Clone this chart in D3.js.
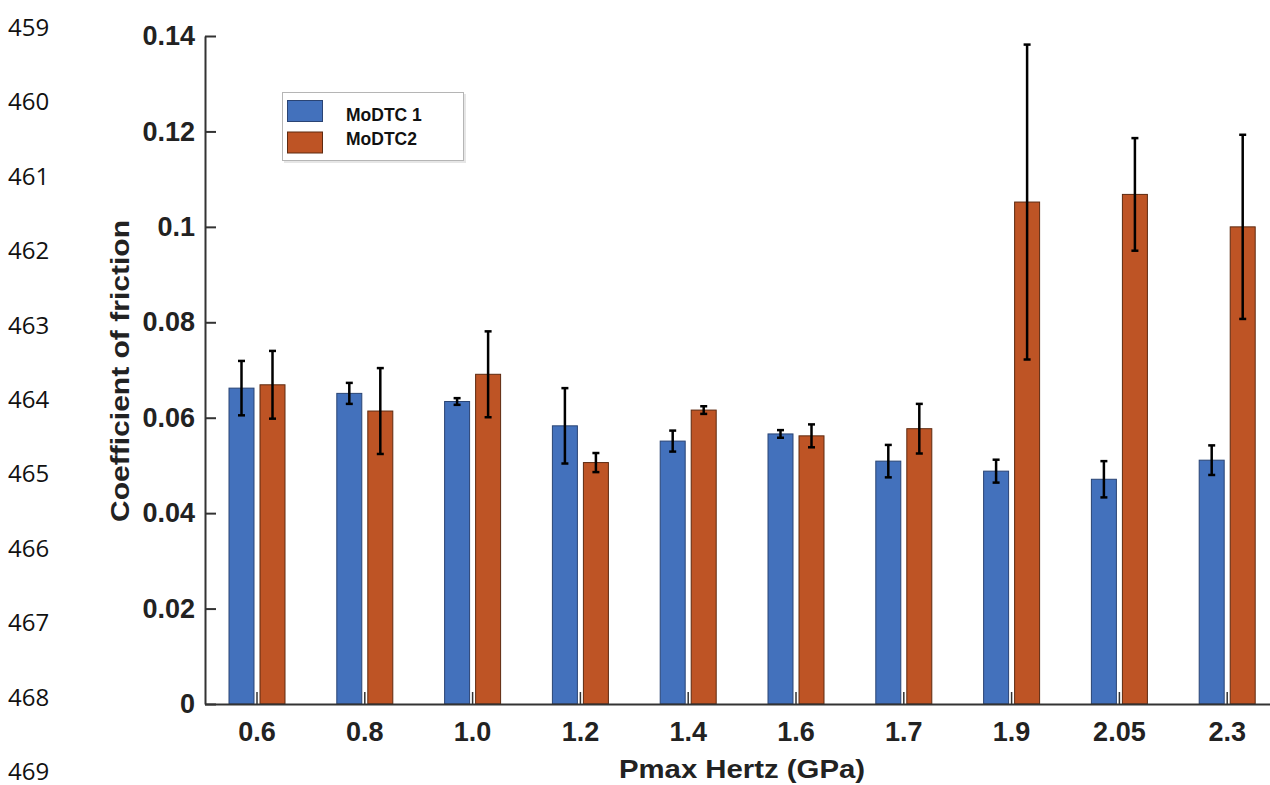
<!DOCTYPE html>
<html>
<head>
<meta charset="utf-8">
<script src="https://cdn.jsdelivr.net/npm/d3@7/dist/d3.min.js"></script>
<style>
  html, body { margin: 0; padding: 0; background: #ffffff; }
  svg { display: block; }
</style>
</head>
<body>
<svg id="chart" width="1270" height="785"></svg>
<script>
// ---- data ----
const categories = ["0.6", "0.8", "1.0", "1.2", "1.4", "1.6", "1.7", "1.9", "2.05", "2.3"];
const seriesNames = ["MoDTC 1", "MoDTC2"];
const modtc1 = [0.0662, 0.0651, 0.0634, 0.0583, 0.0551, 0.0566, 0.0509, 0.0488, 0.0471, 0.0511];
const modtc1Err = [0.0057, 0.0022, 0.0007, 0.0079, 0.0022, 0.0008, 0.0034, 0.0024, 0.0038, 0.0031];
const modtc2 = [0.0669, 0.0614, 0.0691, 0.0506, 0.0616, 0.0562, 0.0577, 0.1052, 0.1068, 0.1000];
const modtc2Err = [0.0071, 0.0090, 0.0090, 0.0020, 0.0008, 0.0024, 0.0052, 0.0330, 0.0118, 0.0193];
const yTicks = [0, 0.02, 0.04, 0.06, 0.08, 0.1, 0.12, 0.14];
const yTickLabels = ["0", "0.02", "0.04", "0.06", "0.08", "0.1", "0.12", "0.14"];
const lineNumbers = [459, 460, 461, 462, 463, 464, 465, 466, 467, 468, 469];
const yTitle = "Coefficient of friction";
const xTitle = "Pmax Hertz (GPa)";

// ---- styling ----
const colors = ["#4371BC", "#BE5425"];
const strokes = ["#2a4474", "#5e2a10"];
const FONT = "'Liberation Sans', Arial, Helvetica, sans-serif";

const svg = d3.select("#chart");

// scales
const y = d3.scaleLinear().domain([0, 0.14]).range([704, 36]);
const x = d3.scaleBand().domain(categories).range([203.1, 1281.1]).paddingInner(0).paddingOuter(0);
const xInner = d3.scaleBand().domain(d3.range(seriesNames.length)).range([-28, 28]).paddingInner(0.194).paddingOuter(0);

const rows = categories.map((c, i) => ({
  cat: c,
  vals: [
    { s: 0, v: modtc1[i], e: modtc1Err[i] },
    { s: 1, v: modtc2[i], e: modtc2Err[i] }
  ]
}));

// line numbers on left margin
const lnScale = d3.scaleLinear().domain([459, 469]).range([28, 772]);
svg.append("g").selectAll("text").data(lineNumbers).join("text")
  .attr("x", 8)
  .attr("y", d => lnScale(d) + 8)
  .attr("font-family", "'Open Sans', 'Noto Sans', sans-serif")
  .attr("font-size", 24)
  .attr("fill", "#111")
  .text(d => d);

// bars
const groups = svg.append("g").selectAll("g").data(rows).join("g")
  .attr("transform", d => `translate(${x(d.cat) + x.bandwidth() / 2},0)`);

groups.selectAll("rect").data(d => d.vals).join("rect")
  .attr("x", d => xInner(d.s))
  .attr("width", xInner.bandwidth())
  .attr("y", d => y(d.v))
  .attr("height", d => y(0) - y(d.v))
  .attr("fill", d => colors[d.s])
  .attr("stroke", d => strokes[d.s])
  .attr("stroke-width", 1);

// axes
const yAxis = d3.axisLeft(y).tickValues(yTicks).tickFormat((d, i) => yTickLabels[i])
  .tickSizeInner(-11).tickSizeOuter(0).tickPadding(10);
const yg = svg.append("g").attr("transform", "translate(205,0)").call(yAxis);
yg.select(".domain").attr("stroke", "#333").attr("stroke-width", 2);
yg.selectAll(".tick line").attr("stroke", "#333").attr("stroke-width", 2);
yg.selectAll(".tick text").attr("font-family", FONT).attr("font-weight", "bold")
  .attr("font-size", 27).attr("fill", "#222");

const xAxis = d3.axisBottom(x).tickSizeInner(-12).tickSizeOuter(0).tickPadding(18);
const xg = svg.append("g").attr("transform", "translate(0,704)").call(xAxis);
xg.select(".domain").attr("d", "M205,0.5H1270").attr("stroke", "#333").attr("stroke-width", 2);
xg.selectAll(".tick line").attr("stroke", "#333").attr("stroke-width", 1.5);
xg.selectAll(".tick text").attr("font-family", FONT).attr("font-weight", "bold")
  .attr("font-size", 27).attr("fill", "#222");

// error bars
const capW = 7;
const eb = groups.selectAll("g.err").data(d => d.vals).join("g").attr("class", "err")
  .attr("stroke", "#000").attr("stroke-width", 2.5);
eb.append("line")
  .attr("x1", d => xInner(d.s) + xInner.bandwidth() / 2)
  .attr("x2", d => xInner(d.s) + xInner.bandwidth() / 2)
  .attr("y1", d => y(d.v + d.e))
  .attr("y2", d => y(d.v - d.e));
eb.append("line")
  .attr("x1", d => xInner(d.s) + xInner.bandwidth() / 2 - capW / 2)
  .attr("x2", d => xInner(d.s) + xInner.bandwidth() / 2 + capW / 2)
  .attr("y1", d => y(d.v + d.e))
  .attr("y2", d => y(d.v + d.e));
eb.append("line")
  .attr("x1", d => xInner(d.s) + xInner.bandwidth() / 2 - capW / 2)
  .attr("x2", d => xInner(d.s) + xInner.bandwidth() / 2 + capW / 2)
  .attr("y1", d => y(d.v - d.e))
  .attr("y2", d => y(d.v - d.e));

// axis titles
svg.append("text")
  .attr("transform", "translate(129,371) rotate(-90)")
  .attr("text-anchor", "middle")
  .attr("font-family", FONT).attr("font-weight", "bold").attr("font-size", 25)
  .attr("fill", "#222")
  .attr("textLength", 302).attr("lengthAdjust", "spacingAndGlyphs")
  .text(yTitle);

svg.append("text")
  .attr("x", 742).attr("y", 778)
  .attr("text-anchor", "middle")
  .attr("font-family", FONT).attr("font-weight", "bold").attr("font-size", 26)
  .attr("fill", "#222")
  .attr("textLength", 246).attr("lengthAdjust", "spacingAndGlyphs")
  .text(xTitle);

// legend
const lg = svg.append("g");
lg.append("rect").attr("x", 284).attr("y", 94).attr("width", 182).attr("height", 69)
  .attr("fill", "#e6e6e6");
lg.append("rect").attr("x", 282.5).attr("y", 92.5).attr("width", 181).attr("height", 68)
  .attr("fill", "#fff").attr("stroke", "#b5b5b5").attr("stroke-width", 1);
const li = lg.selectAll("g.item").data(seriesNames).join("g").attr("class", "item")
  .attr("transform", (d, i) => `translate(0,${i * 31.5})`);
li.append("rect").attr("x", 287.5).attr("y", 100.5).attr("width", 35).attr("height", 21)
  .attr("fill", (d, i) => colors[i]).attr("stroke", (d, i) => strokes[i]).attr("stroke-width", 1);
li.append("text").attr("x", 346).attr("y", (d, i) => 121 - i * 7.5)
  .attr("font-family", FONT).attr("font-weight", "bold").attr("font-size", 17.5)
  .attr("fill", "#111")
  .text(d => d);
</script>
</body>
</html>
